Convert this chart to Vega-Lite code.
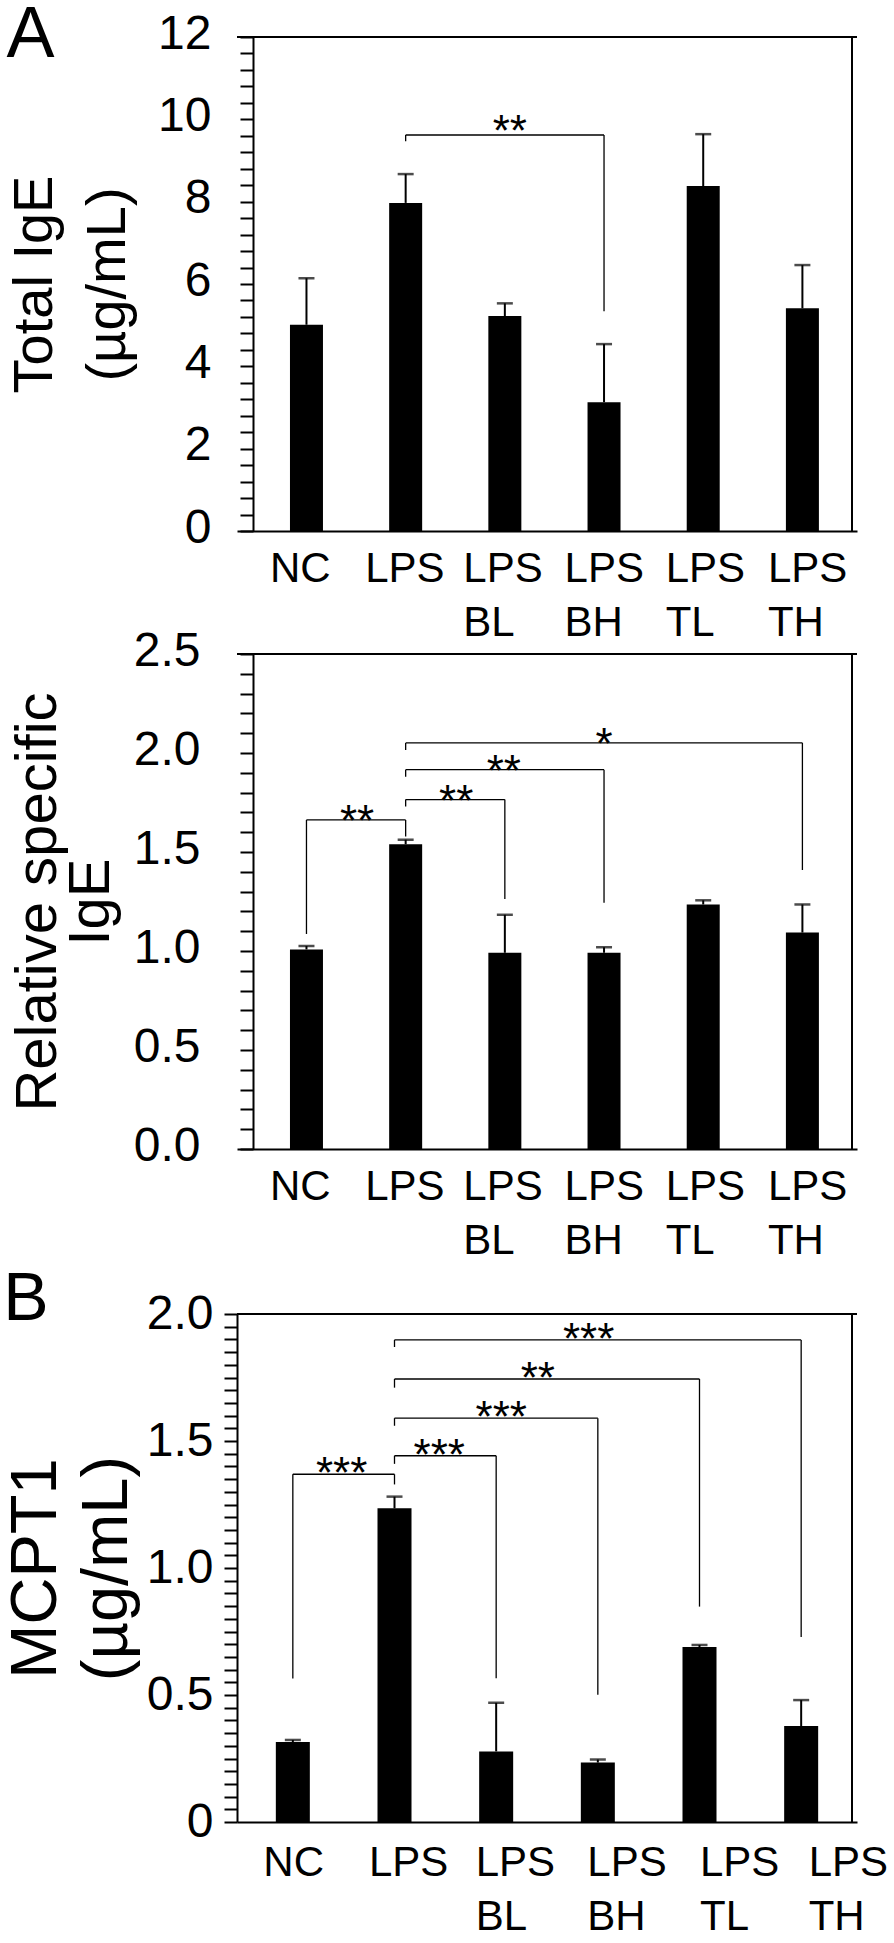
{
  "$schema": "https://vega.github.io/schema/vega-lite/v6.json",
  "padding": {"left": 3, "top": -1, "right": 0, "bottom": 0},
  "autosize": {"type": "pad"},
  "background": "white",
  "spacing": -16,
  "config": {
    "font": "Liberation Sans",
    "view": {"stroke": null},
    "axis": {"grid": false, "domainColor": "black", "domainWidth": 2, "tickColor": "black", "tickWidth": 2, "labelColor": "black", "titleColor": "black", "labelFont": "Liberation Sans", "titleFont": "Liberation Sans", "titleFontWeight": "normal", "labelOverlap": false, "labelFlush": false, "labelBound": false},
    "title": {"font": "Liberation Sans", "fontWeight": "normal", "color": "black", "anchor": "start", "frame": "bounds", "baseline": "alphabetic"},
    "text": {"font": "Liberation Sans", "color": "black"}
  },
  "datasets": {
    "ige": [
      {"group": "NC", "idx": 0, "mean": 5.01, "upper": 6.14},
      {"group": "LPS", "idx": 1, "mean": 7.97, "upper": 8.67},
      {"group": "LPS BL", "idx": 2, "mean": 5.22, "upper": 5.53},
      {"group": "LPS BH", "idx": 3, "mean": 3.13, "upper": 4.54},
      {"group": "LPS TL", "idx": 4, "mean": 8.38, "upper": 9.64},
      {"group": "LPS TH", "idx": 5, "mean": 5.41, "upper": 6.46}
    ],
    "sige": [
      {"group": "NC", "idx": 0, "mean": 1.008, "upper": 1.025},
      {"group": "LPS", "idx": 1, "mean": 1.539, "upper": 1.562},
      {"group": "LPS BL", "idx": 2, "mean": 0.991, "upper": 1.183},
      {"group": "LPS BH", "idx": 3, "mean": 0.991, "upper": 1.019},
      {"group": "LPS TL", "idx": 4, "mean": 1.235, "upper": 1.256},
      {"group": "LPS TH", "idx": 5, "mean": 1.093, "upper": 1.235}
    ],
    "mcpt": [
      {"group": "NC", "idx": 0, "mean": 0.315, "upper": 0.323},
      {"group": "LPS", "idx": 1, "mean": 1.235, "upper": 1.281},
      {"group": "LPS BL", "idx": 2, "mean": 0.278, "upper": 0.469},
      {"group": "LPS BH", "idx": 3, "mean": 0.234, "upper": 0.246},
      {"group": "LPS TL", "idx": 4, "mean": 0.689, "upper": 0.697},
      {"group": "LPS TH", "idx": 5, "mean": 0.378, "upper": 0.48}
    ],
    "br1": [
      {"x1": 1, "x2": 3, "top": 9.62, "e1": 9.47, "e2": 5.34, "sx": 2.05, "stars": "**"}
    ],
    "br2": [
      {"x1": 0, "x2": 1, "top": 1.662, "e1": 1.086, "e2": 1.578, "sx": 0.51, "stars": "**"},
      {"x1": 1, "x2": 2, "top": 1.765, "e1": 1.73, "e2": 1.263, "sx": 1.51, "stars": "**"},
      {"x1": 1, "x2": 3, "top": 1.916, "e1": 1.88, "e2": 1.244, "sx": 1.99, "stars": "**"},
      {"x1": 1, "x2": 5, "top": 2.051, "e1": 2.015, "e2": 1.409, "sx": 3.0, "stars": "*"}
    ],
    "br3": [
      {"x1": 0, "x2": 1, "top": 1.369, "e1": 0.565, "e2": 1.329, "sx": 0.48, "stars": "***"},
      {"x1": 1, "x2": 2, "top": 1.442, "e1": 1.41, "e2": 0.566, "sx": 1.44, "stars": "***"},
      {"x1": 1, "x2": 3, "top": 1.59, "e1": 1.56, "e2": 0.501, "sx": 2.05, "stars": "***"},
      {"x1": 1, "x2": 4, "top": 1.744, "e1": 1.71, "e2": 0.848, "sx": 2.41, "stars": "**"},
      {"x1": 1, "x2": 5, "top": 1.898, "e1": 1.87, "e2": 0.728, "sx": 2.91, "stars": "***"}
    ],
    "one": [{}]
  },
  "vconcat": [
    {
      "width": 620, "height": 494,
      "title": {"text": "A", "fontSize": 72, "offset": -62},
      "resolve": {"axis": {"x": "independent", "y": "independent"}},
      "layer": [
        {
          "data": {"name": "ige"},
          "mark": {"type": "bar", "orient": "vertical", "size": 33, "color": "black"},
          "encoding": {
            "x": {"field": "idx", "type": "quantitative", "scale": {"domain": [-0.65, 5.5], "nice": false, "zero": false},
              "axis": {"title": null, "values": [0, 1, 2, 3, 4, 5], "ticks": false, "tickSize": 0, "labelPadding": 17, "labelFontSize": 42, "labelLineHeight": 54, "labelAlign": "left", "labelBaseline": "top", "labelOverlap": false, "labelFlush": false,
                "labelExpr": "['NC','LPS',['LPS','BL'],['LPS','BH'],['LPS','TL'],['LPS','TH']][datum.value]",
                "labelOffset": {"expr": "[-37,-41,-42,-40,-38,-35][datum.value]"}}},
            "y": {"field": "mean", "type": "quantitative", "scale": {"domain": [0, 12], "nice": false},
              "axis": {"title": ["Total IgE", "(µg/mL)"], "titleFontSize": 56, "titleLineHeight": 73, "titlePadding": 21, "labelOverlap": false, "labelFlush": false,
                "values": [0,0.4,0.8,1.2,1.6,2,2.4,2.8,3.2,3.6,4,4.4,4.8,5.2,5.6,6,6.4,6.8,7.2,7.6,8,8.4,8.8,9.2,9.6,10,10.4,10.8,11.2,11.6,12],
                "labelExpr": "indexof([0,2,4,6,8,10,12], datum.value) >= 0 ? format(datum.value, 'd') : ''",
                "offset": -16, "tickSize": 13, "labelPadding": 29, "labelFontSize": 48, "labelOffset": -3,
                "encode": {"ticks": {"update": {"x": {"value": 10}, "x2": {"signal": "indexof([0,2,4,6,8,10,12], datum.value) >= 0 ? -13 : 0"}}}}}},
            "y2": {"datum": 0}
          }
        },
        {
          "data": {"name": "ige"},
          "mark": {"type": "rule", "strokeWidth": 2, "color": "black"},
          "encoding": {"x": {"field": "idx", "type": "quantitative", "axis": null}, "y": {"field": "mean", "type": "quantitative", "axis": null}, "y2": {"field": "upper"}}
        },
        {
          "data": {"name": "ige"},
          "mark": {"type": "tick", "orient": "horizontal", "size": 16, "thickness": 2.5, "color": "black"},
          "encoding": {"x": {"field": "idx", "type": "quantitative", "axis": null}, "y": {"field": "upper", "type": "quantitative", "axis": null}}
        },
        {
          "data": {"name": "br1"},
          "mark": {"type": "rule", "strokeWidth": 1.3, "color": "black"},
          "encoding": {"x": {"field": "x1", "type": "quantitative", "axis": null}, "x2": {"field": "x2"}, "y": {"field": "top", "type": "quantitative", "axis": null}}
        },
        {
          "data": {"name": "br1"},
          "mark": {"type": "rule", "strokeWidth": 1.3, "color": "black"},
          "encoding": {"x": {"field": "x1", "type": "quantitative", "axis": null}, "y": {"field": "top", "type": "quantitative", "axis": null}, "y2": {"field": "e1"}}
        },
        {
          "data": {"name": "br1"},
          "mark": {"type": "rule", "strokeWidth": 1.3, "color": "black"},
          "encoding": {"x": {"field": "x2", "type": "quantitative", "axis": null}, "y": {"field": "top", "type": "quantitative", "axis": null}, "y2": {"field": "e2"}}
        },
        {
          "data": {"name": "br1"},
          "mark": {"type": "text", "fontSize": 44, "baseline": "alphabetic", "align": "center", "dy": 11},
          "encoding": {"x": {"field": "sx", "type": "quantitative", "axis": null}, "y": {"field": "top", "type": "quantitative", "axis": null}, "text": {"field": "stars"}}
        },
        {
          "data": {"name": "one"},
          "mark": {"type": "rule", "strokeWidth": 2, "color": "black"},
          "encoding": {"y": {"datum": 12, "type": "quantitative", "axis": null}}
        },
        {
          "data": {"name": "one"},
          "mark": {"type": "rule", "strokeWidth": 2, "color": "black"},
          "encoding": {"x": {"datum": 5.5, "type": "quantitative", "axis": null}}
        }
      ]
    },
    {
      "width": 620, "height": 495,
      "resolve": {"axis": {"x": "independent", "y": "independent"}},
      "layer": [
        {
          "data": {"name": "sige"},
          "mark": {"type": "bar", "orient": "vertical", "size": 33, "color": "black"},
          "encoding": {
            "x": {"field": "idx", "type": "quantitative", "scale": {"domain": [-0.65, 5.5], "nice": false, "zero": false},
              "axis": {"title": null, "values": [0, 1, 2, 3, 4, 5], "ticks": false, "tickSize": 0, "labelPadding": 17, "labelFontSize": 42, "labelLineHeight": 54, "labelAlign": "left", "labelBaseline": "top", "labelOverlap": false, "labelFlush": false,
                "labelExpr": "['NC','LPS',['LPS','BL'],['LPS','BH'],['LPS','TL'],['LPS','TH']][datum.value]",
                "labelOffset": {"expr": "[-37,-41,-42,-40,-38,-35][datum.value]"}}},
            "y": {"field": "mean", "type": "quantitative", "scale": {"domain": [0, 2.5], "nice": false},
              "axis": {"title": ["Relative specific", "IgE"], "titleFontSize": 58, "titleLineHeight": 53, "titlePadding": 13, "labelOverlap": false, "labelFlush": false,
                "values": [0,0.1,0.2,0.3,0.4,0.5,0.6,0.7,0.8,0.9,1,1.1,1.2,1.3,1.4,1.5,1.6,1.7,1.8,1.9,2,2.1,2.2,2.3,2.4,2.5],
                "labelExpr": "indexof([0,0.5,1,1.5,2,2.5], datum.value) >= 0 ? format(datum.value, '.1f') : ''",
                "offset": -16, "tickSize": 13, "labelPadding": 40, "labelFontSize": 48, "labelOffset": -3,
                "encode": {"ticks": {"update": {"x": {"value": 9}, "x2": {"signal": "indexof([0,0.5,1,1.5,2,2.5], datum.value) >= 0 ? -13 : 0"}}}}}},
            "y2": {"datum": 0}
          }
        },
        {
          "data": {"name": "sige"},
          "mark": {"type": "rule", "strokeWidth": 2, "color": "black"},
          "encoding": {"x": {"field": "idx", "type": "quantitative", "axis": null}, "y": {"field": "mean", "type": "quantitative", "axis": null}, "y2": {"field": "upper"}}
        },
        {
          "data": {"name": "sige"},
          "mark": {"type": "tick", "orient": "horizontal", "size": 16, "thickness": 2.5, "color": "black"},
          "encoding": {"x": {"field": "idx", "type": "quantitative", "axis": null}, "y": {"field": "upper", "type": "quantitative", "axis": null}}
        },
        {
          "data": {"name": "br2"},
          "mark": {"type": "rule", "strokeWidth": 1.3, "color": "black"},
          "encoding": {"x": {"field": "x1", "type": "quantitative", "axis": null}, "x2": {"field": "x2"}, "y": {"field": "top", "type": "quantitative", "axis": null}}
        },
        {
          "data": {"name": "br2"},
          "mark": {"type": "rule", "strokeWidth": 1.3, "color": "black"},
          "encoding": {"x": {"field": "x1", "type": "quantitative", "axis": null}, "y": {"field": "top", "type": "quantitative", "axis": null}, "y2": {"field": "e1"}}
        },
        {
          "data": {"name": "br2"},
          "mark": {"type": "rule", "strokeWidth": 1.3, "color": "black"},
          "encoding": {"x": {"field": "x2", "type": "quantitative", "axis": null}, "y": {"field": "top", "type": "quantitative", "axis": null}, "y2": {"field": "e2"}}
        },
        {
          "data": {"name": "br2"},
          "mark": {"type": "text", "fontSize": 44, "baseline": "alphabetic", "align": "center", "dy": 16},
          "encoding": {"x": {"field": "sx", "type": "quantitative", "axis": null}, "y": {"field": "top", "type": "quantitative", "axis": null}, "text": {"field": "stars"}}
        },
        {
          "data": {"name": "one"},
          "mark": {"type": "rule", "strokeWidth": 2, "color": "black"},
          "encoding": {"y": {"datum": 2.5, "type": "quantitative", "axis": null}}
        },
        {
          "data": {"name": "one"},
          "mark": {"type": "rule", "strokeWidth": 2, "color": "black"},
          "encoding": {"x": {"datum": 5.5, "type": "quantitative", "axis": null}}
        }
      ]
    },
    {
      "width": 620, "height": 508,
      "title": {"text": ["", "B"], "fontSize": 68, "lineHeight": 21, "offset": -44},
      "resolve": {"axis": {"x": "independent", "y": "independent"}},
      "layer": [
        {
          "data": {"name": "mcpt"},
          "mark": {"type": "bar", "orient": "vertical", "size": 34, "color": "black"},
          "encoding": {
            "x": {"field": "idx", "type": "quantitative", "scale": {"domain": [-0.5, 5.5], "nice": false, "zero": false},
              "axis": {"title": null, "values": [0, 1, 2, 3, 4, 5], "ticks": false, "tickSize": 0, "labelPadding": 20, "labelFontSize": 42, "labelLineHeight": 54, "labelAlign": "left", "labelBaseline": "top", "labelOverlap": false, "labelFlush": false,
                "labelExpr": "['NC','LPS',['LPS','BL'],['LPS','BH'],['LPS','TL'],['LPS','TH']][datum.value]",
                "labelOffset": {"expr": "[-30,-26,-21,-11,0,7][datum.value]"}}},
            "y": {"field": "mean", "type": "quantitative", "scale": {"domain": [0, 2], "nice": false},
              "axis": {"title": ["MCPT1", "(µg/mL)"], "titleFontSize": 65, "titleLineHeight": 71, "titlePadding": 6, "labelOverlap": false, "labelFlush": false,
                "values": [0,0.05,0.1,0.15,0.2,0.25,0.3,0.35,0.4,0.45,0.5,0.55,0.6,0.65,0.7,0.75,0.8,0.85,0.9,0.95,1,1.05,1.1,1.15,1.2,1.25,1.3,1.35,1.4,1.45,1.5,1.55,1.6,1.65,1.7,1.75,1.8,1.85,1.9,1.95,2],
                "labelExpr": "indexof([0.5,1,1.5,2], datum.value) >= 0 ? format(datum.value, '.1f') : (datum.value == 0 ? '0' : '')",
                "tickSize": 13, "labelPadding": 11, "labelFontSize": 48,
                "encode": {"ticks": {"update": {"x": {"value": 10}, "x2": {"signal": "indexof([0,0.5,1,1.5,2], datum.value) >= 0 ? -13 : 0"}}}}}},
            "y2": {"datum": 0}
          }
        },
        {
          "data": {"name": "mcpt"},
          "mark": {"type": "rule", "strokeWidth": 2, "color": "black"},
          "encoding": {"x": {"field": "idx", "type": "quantitative", "axis": null}, "y": {"field": "mean", "type": "quantitative", "axis": null}, "y2": {"field": "upper"}}
        },
        {
          "data": {"name": "mcpt"},
          "mark": {"type": "tick", "orient": "horizontal", "size": 16, "thickness": 2.5, "color": "black"},
          "encoding": {"x": {"field": "idx", "type": "quantitative", "axis": null}, "y": {"field": "upper", "type": "quantitative", "axis": null}}
        },
        {
          "data": {"name": "br3"},
          "mark": {"type": "rule", "strokeWidth": 1.3, "color": "black"},
          "encoding": {"x": {"field": "x1", "type": "quantitative", "axis": null}, "x2": {"field": "x2"}, "y": {"field": "top", "type": "quantitative", "axis": null}}
        },
        {
          "data": {"name": "br3"},
          "mark": {"type": "rule", "strokeWidth": 1.3, "color": "black"},
          "encoding": {"x": {"field": "x1", "type": "quantitative", "axis": null}, "y": {"field": "top", "type": "quantitative", "axis": null}, "y2": {"field": "e1"}}
        },
        {
          "data": {"name": "br3"},
          "mark": {"type": "rule", "strokeWidth": 1.3, "color": "black"},
          "encoding": {"x": {"field": "x2", "type": "quantitative", "axis": null}, "y": {"field": "top", "type": "quantitative", "axis": null}, "y2": {"field": "e2"}}
        },
        {
          "data": {"name": "br3"},
          "mark": {"type": "text", "fontSize": 44, "baseline": "alphabetic", "align": "center", "dy": 14},
          "encoding": {"x": {"field": "sx", "type": "quantitative", "axis": null}, "y": {"field": "top", "type": "quantitative", "axis": null}, "text": {"field": "stars"}}
        },
        {
          "data": {"name": "one"},
          "mark": {"type": "rule", "strokeWidth": 2, "color": "black"},
          "encoding": {"y": {"datum": 2, "type": "quantitative", "axis": null}}
        },
        {
          "data": {"name": "one"},
          "mark": {"type": "rule", "strokeWidth": 2, "color": "black"},
          "encoding": {"x": {"datum": 5.5, "type": "quantitative", "axis": null}}
        }
      ]
    }
  ]
}
